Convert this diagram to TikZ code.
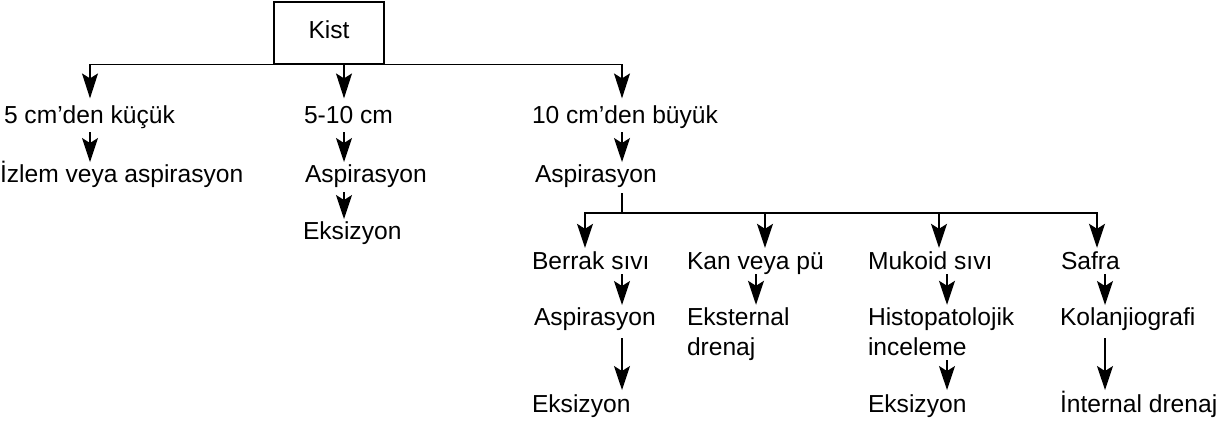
\documentclass[tikz,border=0pt]{standalone}
\usepackage{fontspec}
\setmainfont{Liberation Sans}
\usetikzlibrary{arrows.meta}
\tikzset{
  lbl/.style={anchor=base west, inner sep=0pt, outer sep=0pt, text height=8.8pt, text depth=2.6pt,
    font=\fontsize{12.3}{15}\selectfont},
  lbl2/.style={anchor=base west, inner sep=0pt, outer sep=0pt, align=left, text width=80pt,
    font=\fontsize{12.3}{15}\selectfont},
  boxnode/.style={draw, line width=0.7pt, minimum width=55pt, minimum height=31pt, inner sep=0pt,
    text depth=3pt, font=\fontsize{12.3}{15}\selectfont},
  conn/.style={line width=0.65pt, draw=black},
  arr/.style={conn, -{Stealth[length=12pt,width=8pt,inset=2.5pt]}},
  arrbig/.style={conn, -{Stealth[length=12.5pt,width=8pt,inset=2.5pt]}},
}
\begin{document}
\begin{tikzpicture}[x=0.5pt,y=-0.5pt]
\useasboundingbox (0,0) rectangle (1224,425);
% column coordinates
\coordinate (c0) at (90,0);
\coordinate (c1) at (344,0);
\coordinate (c2) at (622,0);
\coordinate (d0) at (585,0);
\coordinate (d1) at (765,0);
\coordinate (d2) at (939,0);
\coordinate (d3) at (1097,0);
\coordinate (e1) at (756,0);
\coordinate (e2) at (947,0);
\coordinate (e3) at (1105,0);
\coordinate (hub) at (622,213);
% nodes
\node[boxnode] (kist) at (329,33) {Kist\hspace{4pt}};
\node[lbl] (n1) at (4,123) {5 cm’den küçük};
\node[lbl] (n2) at (304,123) {5-10 cm};
\node[lbl] (n3) at (532,123) {10 cm’den büyük};
\node[lbl] (a1) at (0,182) {İzlem veya aspirasyon};
\node[lbl] (a2) at (305,182) {Aspirasyon};
\node[lbl] (a3) at (535,182) {Aspirasyon};
\node[lbl] (x2) at (303,239) {Eksizyon};
\node[lbl] (b1) at (532,269) {Berrak sıvı};
\node[lbl] (b2) at (687,269) {Kan veya pü};
\node[lbl] (b3) at (868,269) {Mukoid sıvı};
\node[lbl] (b4) at (1061,269) {Safra};
\node[lbl] (f1) at (534,325) {Aspirasyon};
\node[lbl2] (f2) at (687,325) {Eksternal\\drenaj};
\node[lbl2] (f3) at (868,325) {Histopatolojik\\inceleme};
\node[lbl] (f4) at (1060,325) {Kolanjiografi};
\node[lbl] (g1) at (532,412) {Eksizyon};
\node[lbl] (g3) at (868,412) {Eksizyon};
\node[lbl] (g4) at (1060,412) {İnternal drenaj};
% connectors level 1
\draw[arrbig, shorten >=3.5pt] (kist.south) -| (n1.north -| c0);
\draw[arrbig, shorten >=3.5pt] (kist.south) -| (n3.north -| c2);
\draw[arrbig, shorten >=3.5pt] (kist.south -| c1) -- (n2.north -| c1);
% level 2
\draw[arr, shorten <=2pt, shorten >=1.2pt] (n1.south -| c0) -- (a1.north -| c0);
\draw[arr, shorten <=2pt, shorten >=1.2pt] (n2.south -| c1) -- (a2.north -| c1);
\draw[arr, shorten <=2pt, shorten >=1.2pt] (n3.south -| c2) -- (a3.north -| c2);
\draw[arr, shorten <=2.5pt, shorten >=1.2pt] (a2.south -| c1) -- (x2.north -| c1);
% split after aspirasyon
\draw[conn, shorten <=3pt] (a3.south -| c2) -- (hub);
\draw[arr, shorten >=1.8pt] (hub) -| (b1.north -| d0);
\draw[arr, shorten >=1.8pt] (hub) -| (b2.north -| d1);
\draw[arr, shorten >=1.8pt] (hub) -| (b3.north -| d2);
\draw[arr, shorten >=1.8pt] (hub) -| (b4.north -| d3);
% level 4
\draw[arr, shorten >=1.2pt] (b1.south -| c2) -- (f1.north -| c2);
\draw[arr, shorten >=1.2pt] (b2.south -| e1) -- (f2.north -| e1);
\draw[arr, shorten >=1.2pt] (b3.south -| e2) -- (f3.north -| e2);
\draw[arr, shorten >=1.2pt] (b4.south -| e3) -- (f4.north -| e3);
% level 5
\draw[arr, shorten <=4pt, shorten >=2.2pt] (f1.south -| c2) -- (g1.north -| c2);
\draw[arr, shorten <=2.5pt, shorten >=2.2pt] (f3.south -| e2) -- (g3.north -| e2);
\draw[arr, shorten <=4pt, shorten >=2.2pt] (f4.south -| e3) -- (g4.north -| e3);
\end{tikzpicture}
\end{document}
